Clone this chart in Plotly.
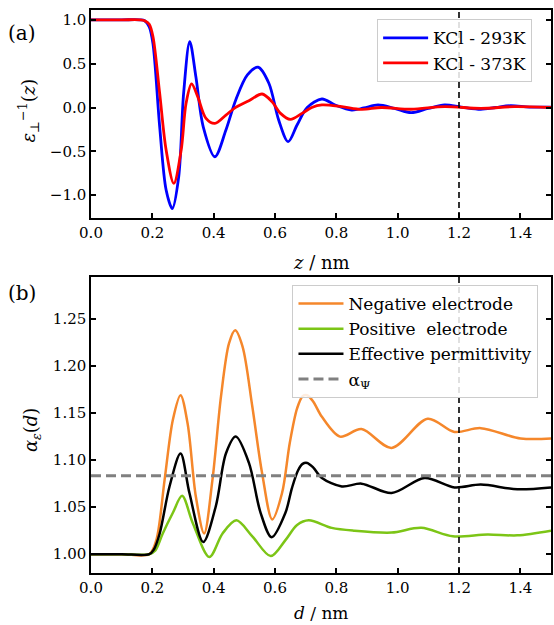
import plotly.graph_objects as go

# ---------------- data ----------------
z_293 = [0.0, 0.10, 0.16, 0.175, 0.19, 0.202, 0.224, 0.245, 0.265, 0.286, 0.302, 0.322, 0.342,
         0.366, 0.404, 0.44, 0.472, 0.51, 0.545, 0.58, 0.612, 0.643, 0.672, 0.705, 0.753, 0.796,
         0.85, 0.89, 0.936, 0.99, 1.044, 1.10, 1.153, 1.207, 1.271, 1.32, 1.368, 1.43, 1.5]
eps_293 = [1.0, 1.0, 1.0, 0.99, 0.92, 0.73, -0.22, -0.94, -1.152, -0.79, 0.16, 0.752, 0.35,
           -0.22, -0.562, -0.257, 0.086, 0.371, 0.459, 0.277, -0.143, -0.39, -0.20, 0.0, 0.097, 0.029,
           -0.029, -0.005, 0.029, -0.01, -0.059, -0.01, 0.029, 0.005, -0.021, 0.0, 0.02, 0.005, 0.005]

z_373 = [0.0, 0.10, 0.16, 0.175, 0.19, 0.202, 0.224, 0.245, 0.27, 0.294, 0.31, 0.328, 0.348,
         0.375, 0.404, 0.44, 0.472, 0.515, 0.558, 0.59, 0.618, 0.65, 0.688, 0.72, 0.753, 0.818,
         0.882, 0.947, 1.044, 1.153, 1.271, 1.38, 1.5]
eps_373 = [1.0, 1.0, 1.0, 0.99, 0.95, 0.81, 0.16, -0.486, -0.866, -0.486, 0.048, 0.269, 0.124,
           -0.124, -0.181, -0.086, 0.002, 0.078, 0.154, 0.067, -0.067, -0.135, -0.067, 0.0, 0.029, 0.01,
           -0.021, 0.0, -0.02, 0.01, -0.01, 0.01, 0.0]

d_neg = [0.0, 0.10, 0.19, 0.213, 0.24, 0.267, 0.292, 0.315, 0.342, 0.369, 0.396, 0.424, 0.45, 0.47,
         0.494, 0.526, 0.558, 0.591, 0.623, 0.648, 0.672, 0.69, 0.705, 0.725, 0.753, 0.812, 0.882,
         0.98, 1.098, 1.185, 1.271, 1.401, 1.5]
alpha_neg = [1.0, 1.0, 1.0, 1.015, 1.079, 1.143, 1.169, 1.139, 1.061, 1.022, 1.079, 1.168, 1.224, 1.238,
             1.221, 1.157, 1.086, 1.037, 1.065, 1.118, 1.155, 1.168, 1.169, 1.162, 1.146, 1.125, 1.133,
             1.113, 1.144, 1.130, 1.134, 1.123, 1.123]

d_pos = [0.0, 0.10, 0.19, 0.21, 0.234, 0.267, 0.297, 0.332, 0.386, 0.429, 0.474, 0.526, 0.586, 0.634,
         0.672, 0.71, 0.785, 0.857, 0.98, 1.077, 1.18, 1.293, 1.39, 1.5]
alpha_pos = [1.0, 1.0, 1.0, 1.004, 1.022, 1.044, 1.062, 1.033, 0.997, 1.022, 1.036, 1.019, 0.998, 1.015,
             1.031, 1.036, 1.028, 1.025, 1.023, 1.028, 1.019, 1.021, 1.020, 1.025]

d_eff = [0.0, 0.10, 0.19, 0.205, 0.224, 0.256, 0.292, 0.321, 0.366, 0.407, 0.44, 0.472, 0.515, 0.553,
         0.589, 0.634, 0.655, 0.675, 0.69, 0.705, 0.725, 0.753, 0.818, 0.882, 0.98, 1.088, 1.185,
         1.271, 1.39, 1.5]
alpha_eff = [1.0, 1.0, 1.0, 1.005, 1.022, 1.072, 1.107, 1.065, 1.013, 1.051, 1.107, 1.125, 1.097, 1.044,
             1.018, 1.044, 1.070, 1.089, 1.096, 1.097, 1.092, 1.081, 1.072, 1.075, 1.065, 1.081, 1.071,
             1.074, 1.069, 1.071]

alpha_psi = 1.0833
cutoff = 1.2
x_limits = [0.0, 1.5]
top_ylim = [-1.26, 1.112]
bot_ylim = [0.98, 1.295]
x_ticks = [0.0, 0.2, 0.4, 0.6, 0.8, 1.0, 1.2, 1.4]
top_yticks = [-1.0, -0.5, 0.0, 0.5, 1.0]
bot_yticks = [1.00, 1.05, 1.10, 1.15, 1.20, 1.25]

# ---------------- figure ----------------
FONT = "DejaVu Serif"
fig = go.Figure()

def line(x, y, name, color, xa, ya, leg, width=2.8, dash=None, show=True):
    fig.add_trace(go.Scatter(x=x, y=y, name=name, mode="lines",
                             line=dict(color=color, width=width, shape="spline", smoothing=0.9,
                                       dash=dash),
                             xaxis=xa, yaxis=ya, legend=leg, showlegend=show))

line(z_293, eps_293, "KCl - 293K", "#0000ff", "x", "y", "legend")
line(z_373, eps_373, "KCl - 373K", "#ff0000", "x", "y", "legend")

line(d_neg, alpha_neg, "Negative electrode", "#f5872b", "x2", "y2", "legend2", width=2.5)
line(d_pos, alpha_pos, "Positive\u00a0 electrode", "#7cc516", "x2", "y2", "legend2", width=2.5)
line(d_eff, alpha_eff, "Effective permittivity", "#000000", "x2", "y2", "legend2", width=2.5)
fig.add_trace(go.Scatter(x=x_limits, y=[alpha_psi, alpha_psi], name="α<sub>Ψ</sub>", mode="lines",
                         line=dict(color="#808080", width=3, dash="10px,5px"),
                         xaxis="x2", yaxis="y2", legend="legend2"))

for xr, yr in (("x", "y"), ("x2", "y2")):
    fig.add_shape(type="line", xref=xr, yref=yr + " domain", x0=cutoff, x1=cutoff, y0=0, y1=1,
                  line=dict(color="black", width=1.6, dash="6px,4px"))

axis_common = dict(showgrid=False, zeroline=False, ticks="inside", ticklen=5, tickwidth=1.5,
                   tickcolor="black", showline=True, linecolor="black", linewidth=1.5,
                   tickfont=dict(family=FONT, size=15, color="black"))

fig.update_layout(
    width=554, height=625,
    margin=dict(l=91, r=1, t=10, b=52),
    paper_bgcolor="white", plot_bgcolor="white",
    font=dict(family=FONT, color="black"),
    xaxis=dict(domain=[0, 1], anchor="y", range=x_limits, tickvals=x_ticks, tickformat=".1f",
               mirror=True, **axis_common),
    yaxis=dict(domain=[0.6306, 1], anchor="x", range=top_ylim, tickvals=top_yticks, tickformat=".1f",
               mirror="ticks", **axis_common),
    xaxis2=dict(domain=[0, 1], anchor="y2", range=x_limits, tickvals=x_ticks, tickformat=".1f",
                mirror=True, **axis_common),
    yaxis2=dict(domain=[0, 0.5263], anchor="x2", range=bot_ylim, tickvals=bot_yticks, tickformat=".2f",
                mirror="ticks", **axis_common),
    legend=dict(x=0.622, y=0.9835, xanchor="left", yanchor="top", bgcolor="rgba(255,255,255,0.85)",
                bordercolor="#cccccc", borderwidth=1, font=dict(family=FONT, size=17),
                itemwidth=45, tracegroupgap=0),
    legend2=dict(x=0.438, y=0.5115, xanchor="left", yanchor="top", bgcolor="rgba(255,255,255,0.85)",
                 bordercolor="#cccccc", borderwidth=1, font=dict(family=FONT, size=17),
                 itemwidth=45, tracegroupgap=0),
)

ann = [
    dict(text="(a)", x=-0.149, y=0.959, size=20, angle=0),
    dict(text="(b)", x=-0.149, y=0.4973, size=20, angle=0),
    dict(text="<i>z</i> / nm", x=0.5, y=0.5512, size=18, angle=0),
    dict(text="<i>d</i> / nm", x=0.5, y=-0.071, size=17, angle=0),
    dict(text="<i>ε</i><sub>⊥</sub><sup>−1</sup>(<i>z</i>)", x=-0.136, y=0.8224, size=18, angle=-90),
    dict(text="<i>α<sub>ε</sub></i>(<i>d</i>)", x=-0.128, y=0.254, size=18, angle=-90),
]
for a in ann:
    fig.add_annotation(text=a["text"], x=a["x"], y=a["y"], xref="paper", yref="paper",
                       xanchor="center", yanchor="middle", showarrow=False, textangle=a["angle"],
                       font=dict(family=FONT, size=a["size"], color="black"))

fig.write_html("out.html")
